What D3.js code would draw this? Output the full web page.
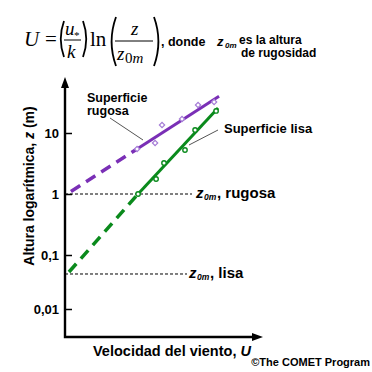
<!DOCTYPE html>
<html>
<head>
<meta charset="utf-8">
<script src="https://cdn.jsdelivr.net/npm/d3@7"></script>
<style>
  html, body { margin: 0; padding: 0; background: #fff; }
  svg { display: block; }
  .sans { font-family: "Liberation Sans", Arial, sans-serif; font-weight: bold; fill: #000; }
  .serif { font-family: "Liberation Serif", "Times New Roman", serif; fill: #000; }
</style>
</head>
<body>
<script>
// ---------- data ----------
const yTickValues = [0.01, 0.1, 1, 10];
const yTickLabels = ["0,01", "0,1", "1", "10"];

// observed points (wind speed U, height z)
const rugosaU = [3.64, 4.55, 4.90, 5.91, 6.72, 7.53];
const rugosaZ = [5.47, 6.86, 13.5, 17.0, 28.8, 32.2];
const lisaU   = [3.69, 4.60, 5.00, 6.06, 6.57, 7.63];
const lisaZ   = [1.00, 1.76, 3.22, 5.26, 11.2, 23.0];

// fitted log profiles: [extrapolated start, first observation, end]
const rugosaFitU = [0.30, 3.64, 7.78];
const rugosaFitZ = [1.10, 5.47, 40.0];
const lisaFitU   = [0.20, 3.69, 7.73];
const lisaFitZ   = [0.0484, 1.00, 25.7];

// roughness lengths
const z0mRugosa = 1.0;
const z0mLisa = 0.0445;

// ---------- layout ----------
const W = 372, H = 372;
const mLeft = 65, mRight = 263, mTop = 77, mBottom = 337;
const purple = "#7a2fb6", lavender = "#a57cd6", green = "#0a8a1c";

const svg = d3.select("body").append("svg").attr("width", W).attr("height", H);

const x = d3.scaleLinear().domain([0, 10]).range([mLeft, mRight]);
const y = d3.scaleLog().domain([0.01, 0.1, 1, 10, 100]).range([309, 255, 194, 133, 72]);

// ---------- formula ----------
const f = svg.append("g");
const serif = (t, xx, yy, size, italic) => f.append("text").attr("class", "serif")
  .attr("x", xx).attr("y", yy).attr("font-size", size)
  .attr("font-style", italic ? "italic" : "normal").text(t);
serif("U", 24, 46, 21, true);
serif("=", 45, 46, 21, false);
const paren = (x0, y0, y1, dir) => {
  const h = y1 - y0, b = dir * h * 0.18;
  f.append("path").attr("d", `M${x0},${y0} Q${x0 - b},${(y0 + y1) / 2} ${x0},${y1}`)
    .attr("fill", "none").attr("stroke", "#000").attr("stroke-width", 1.8);
};
paren(64, 21, 57, 1);
paren(83, 21, 57, -1);
serif("u", 65, 35, 19, true);
serif("*", 74, 39, 11, false);
f.append("line").attr("x1", 64).attr("x2", 81).attr("y1", 40).attr("y2", 40).attr("stroke", "#000").attr("stroke-width", 1);
serif("k", 67, 58, 19, true);
serif("ln", 90, 46, 21, false);
paren(116, 17, 66, 1);
paren(154, 17, 66, -1);
serif("z", 131, 35, 19, true);
f.append("line").attr("x1", 115).attr("x2", 153).attr("y1", 41).attr("y2", 41).attr("stroke", "#000").attr("stroke-width", 1);
serif("z", 117, 60, 19, true);
f.append("text").attr("class", "serif").attr("x", 125).attr("y", 63).attr("font-size", 15)
  .html('0<tspan font-style="italic">m</tspan>');
f.append("text").attr("class", "sans").attr("x", 161).attr("y", 46).attr("font-size", 12.5).text(", donde");
f.append("text").attr("class", "sans").attr("x", 217).attr("y", 46).attr("font-size", 13).attr("font-style", "italic").text("z");
f.append("text").attr("class", "sans").attr("x", 225).attr("y", 48).attr("font-size", 8).attr("font-style", "italic").text("0m");
f.append("text").attr("class", "sans").attr("x", 239).attr("y", 44).attr("font-size", 12).text("es la altura");
f.append("text").attr("class", "sans").attr("x", 241).attr("y", 57).attr("font-size", 12).text("de rugosidad");

// ---------- axes ----------
const yAxis = svg.append("g").attr("transform", `translate(${mLeft},0)`)
  .call(d3.axisLeft(y).tickValues(yTickValues).tickFormat((d, i) => yTickLabels[i]).tickSize(-7).tickPadding(6));
yAxis.select(".domain").remove();
yAxis.selectAll(".tick line").attr("stroke-width", 1.5);
yAxis.selectAll(".tick text").attr("class", "sans").attr("font-size", 13).attr("fill", "#000");

svg.append("path").attr("d", `M${mLeft},${mTop + 8} L${mLeft},${mBottom} L${mRight - 8},${mBottom}`)
  .attr("fill", "none").attr("stroke", "#000").attr("stroke-width", 2.4).attr("stroke-linejoin", "miter");
svg.append("path").attr("d", `M${mLeft},${mTop} L${mLeft - 4},${mTop + 11} L${mLeft + 4},${mTop + 11} Z`).attr("fill", "#000");
svg.append("path").attr("d", `M${mRight},${mBottom} L${mRight - 11},${mBottom - 4} L${mRight - 11},${mBottom + 4} Z`).attr("fill", "#000");

svg.append("text").attr("class", "sans").attr("font-size", 14)
  .attr("transform", `translate(34,186) rotate(-90)`).attr("text-anchor", "middle")
  .html('Altura logarítmica, <tspan font-style="italic">z</tspan> (m)');
svg.append("text").attr("class", "sans").attr("font-size", 14.5).attr("x", 93).attr("y", 356)
  .html('Velocidad del viento, <tspan font-style="italic">U</tspan>');

// ---------- reference lines z0m ----------
svg.append("line").attr("x1", mLeft).attr("x2", 192).attr("y1", y(z0mRugosa)).attr("y2", y(z0mRugosa))
  .attr("stroke", "#000").attr("stroke-width", 1).attr("stroke-dasharray", "3,2");
svg.append("line").attr("x1", mLeft).attr("x2", 187).attr("y1", y(z0mLisa)).attr("y2", y(z0mLisa))
  .attr("stroke", "#000").attr("stroke-width", 1).attr("stroke-dasharray", "3,2");

const z0label = (xx, yy, t) => {
  const g = svg.append("g");
  g.append("text").attr("class", "sans").attr("x", xx).attr("y", yy).attr("font-size", 15).attr("font-style", "italic").text("z");
  g.append("text").attr("class", "sans").attr("x", xx + 8).attr("y", yy + 2).attr("font-size", 8.5).attr("font-style", "italic").text("0m");
  g.append("text").attr("class", "sans").attr("x", xx + 21).attr("y", yy).attr("font-size", 15).text(t);
};
z0label(196, y(z0mRugosa) + 4, ", rugosa");
z0label(189, y(z0mLisa) + 4, ", lisa");

// ---------- fitted lines ----------
const line = d3.line().x(d => x(d[0])).y(d => y(d[1]));
const drawFit = (U, Z, color) => {
  const pts = U.map((u, i) => [u, Z[i]]);
  svg.append("path").attr("d", line(pts.slice(0, 2))).attr("fill", "none").attr("stroke", color)
    .attr("stroke-width", 3.5).attr("stroke-dasharray", "11,7");
  svg.append("path").attr("d", line(pts.slice(1))).attr("fill", "none").attr("stroke", color)
    .attr("stroke-width", 3);
};
drawFit(rugosaFitU, rugosaFitZ, purple);
drawFit(lisaFitU, lisaFitZ, green);

// ---------- points ----------
svg.append("g").selectAll("path").data(rugosaU.map((u, i) => [u, rugosaZ[i]])).join("path")
  .attr("d", d3.symbol(d3.symbolSquare, 14)())
  .attr("transform", d => `translate(${x(d[0])},${y(d[1])}) rotate(45)`)
  .attr("fill", "#fff").attr("stroke", lavender).attr("stroke-width", 1.2);
svg.append("g").selectAll("circle").data(lisaU.map((u, i) => [u, lisaZ[i]])).join("circle")
  .attr("cx", d => x(d[0])).attr("cy", d => y(d[1])).attr("r", 2.2)
  .attr("fill", "#fff").attr("stroke", green).attr("stroke-width", 1.4);

// ---------- annotations ----------
svg.append("text").attr("class", "sans").attr("font-size", 12.5).attr("x", 87).attr("y", 102).text("Superficie");
svg.append("text").attr("class", "sans").attr("font-size", 12.5).attr("x", 87).attr("y", 115).text("rugosa");
svg.append("line").attr("x1", 110).attr("y1", 118).attr("x2", 143).attr("y2", 140).attr("stroke", "#555").attr("stroke-width", 1);
svg.append("text").attr("class", "sans").attr("font-size", 13).attr("x", 224).attr("y", 133).text("Superficie lisa");
svg.append("line").attr("x1", 218).attr("y1", 130).attr("x2", 189).attr("y2", 145).attr("stroke", "#555").attr("stroke-width", 1);

svg.append("text").attr("class", "sans").attr("font-size", 11).attr("x", 370).attr("y", 366)
  .attr("text-anchor", "end").text("©The COMET Program");
</script>
</body>
</html>
